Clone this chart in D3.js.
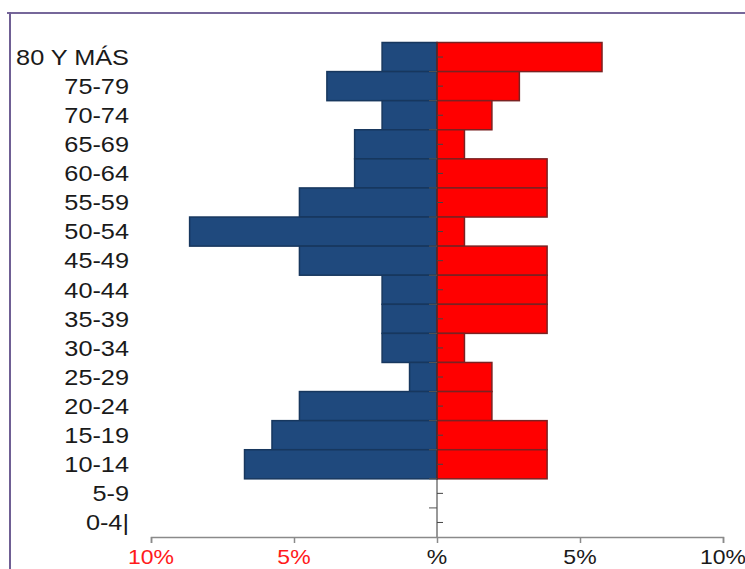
<!DOCTYPE html>
<html>
<head>
<meta charset="utf-8">
<script src="https://cdn.jsdelivr.net/npm/d3@7/dist/d3.min.js"></script>
<style>
  html, body { margin: 0; padding: 0; background: #fff; }
  svg { display: block; }
  text { font-family: "Liberation Sans", Arial, sans-serif; }
</style>
</head>
<body>
<svg id="chart" width="745" height="569"></svg>
<script>
// Age groups, oldest at the top
const ageGroups = ["80 Y MÁS", "75-79", "70-74", "65-69", "60-64", "55-59", "50-54",
  "45-49", "40-44", "35-39", "30-34", "25-29", "20-24", "15-19", "10-14", "5-9", "0-4|"];

// Share of total population (%) on the left (blue) side
const leftValues = [1.92, 3.85, 1.92, 2.88, 2.88, 4.81, 8.65, 4.81, 1.92, 1.92, 1.92,
  0.96, 4.81, 5.77, 6.73, 0, 0];

// Share of total population (%) on the right (red) side
const rightValues = [5.77, 2.88, 1.92, 0.96, 3.85, 3.85, 0.96, 3.85, 3.85, 3.85, 0.96,
  1.92, 1.92, 3.85, 3.85, 0, 0];

// Bottom axis ticks and their labels
const tickValues = [-10, -5, 0, 5, 10];
const tickLabels = ["10%", "5%", "%", "5%", "10%"];

const svg = d3.select("#chart");
const stretch = 1.15;

// Frame lines (top and left)
svg.append("line").attr("x1", 7).attr("x2", 745).attr("y1", 13).attr("y2", 13)
  .attr("stroke", "#76679a").attr("stroke-width", 2);
svg.append("line").attr("x1", 10).attr("x2", 10).attr("y1", 12).attr("y2", 569)
  .attr("stroke", "#6f5f94").attr("stroke-width", 2);

const x = d3.scaleLinear().domain([-10, 10]).range([151, 723]);
const y = d3.scaleBand().domain(ageGroups).range([42.5, 537]).padding(0);

const rows = ageGroups.map((g, i) => ({ g, left: leftValues[i], right: rightValues[i] }));

// Left bars
svg.append("g").selectAll("rect")
  .data(rows.filter(d => d.left > 0))
  .join("rect")
  .attr("x", d => x(-d.left))
  .attr("y", d => y(d.g))
  .attr("width", d => x(0) - x(-d.left))
  .attr("height", y.bandwidth())
  .attr("fill", "#1f497d")
  .attr("stroke", "#17375e")
  .attr("stroke-width", 1.5);

// Right bars
svg.append("g").selectAll("rect")
  .data(rows.filter(d => d.right > 0))
  .join("rect")
  .attr("x", x(0))
  .attr("y", d => y(d.g))
  .attr("width", d => x(d.right) - x(0))
  .attr("height", y.bandwidth())
  .attr("fill", "#ff0000")
  .attr("stroke", "#7a2222")
  .attr("stroke-width", 1.5);

// Centre axis with small ticks
const cg = svg.append("g");
cg.append("line").attr("x1", x(0)).attr("x2", x(0))
  .attr("y1", y.range()[0]).attr("y2", y.range()[1])
  .attr("stroke", "#333").attr("stroke-width", 1);
cg.selectAll("line.c").data(ageGroups).join("line").attr("class", "c")
  .attr("x1", x(0)).attr("x2", x(0) + 6)
  .attr("y1", d => y(d) + y.bandwidth() / 2).attr("y2", d => y(d) + y.bandwidth() / 2)
  .attr("stroke", "#444").attr("stroke-width", 1);
cg.selectAll("line.b").data(ageGroups.slice(1)).join("line").attr("class", "b")
  .attr("x1", x(0) - 8).attr("x2", x(0))
  .attr("y1", d => y(d)).attr("y2", d => y(d))
  .attr("stroke", "#555").attr("stroke-width", 1);

// Age group labels
svg.append("g").attr("transform", `scale(${stretch},1)`)
  .selectAll("text").data(ageGroups).join("text")
  .attr("x", 129 / stretch)
  .attr("y", d => y(d) + y.bandwidth() / 2 + 7.8)
  .attr("text-anchor", "end")
  .attr("font-size", 22)
  .attr("fill", "#1a1a1a")
  .text(d => d);

// Bottom axis
const axis = d3.axisBottom(x).tickValues(tickValues).tickSize(6).tickFormat("");
const ag = svg.append("g").attr("transform", "translate(0,537)").call(axis);
ag.select(".domain").attr("stroke", "#8a8a8a").attr("stroke-width", 1.5);
ag.selectAll(".tick line").attr("stroke", "#8a8a8a").attr("stroke-width", 1.5);

svg.append("g").attr("transform", `scale(${stretch},1)`)
  .selectAll("text").data(tickValues).join("text")
  .attr("x", d => x(d) / stretch)
  .attr("y", 564)
  .attr("text-anchor", "middle")
  .attr("font-size", 20)
  .attr("fill", d => d < 0 ? "#ff1a1a" : "#1a1a1a")
  .text((d, i) => tickLabels[i]);
</script>
</body>
</html>
